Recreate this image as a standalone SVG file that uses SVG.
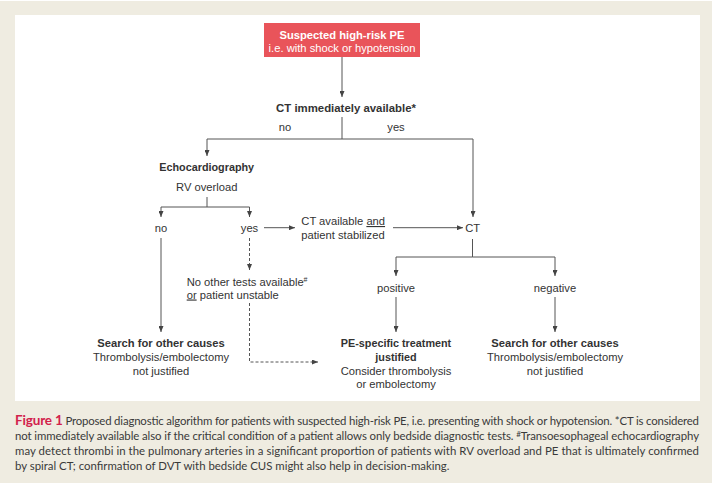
<svg xmlns="http://www.w3.org/2000/svg" width="712" height="485" viewBox="0 0 712 485">
<defs>
<marker id="ah" markerUnits="userSpaceOnUse" markerWidth="6" markerHeight="5" refX="6" refY="2.5" orient="auto">
<path d="M0,0 L6,2.5 L0,5 z" fill="#444"/>
</marker>
<style>
.t{font-family:"Liberation Sans",Arial,sans-serif;font-size:11.2px;fill:#333}
.b{font-weight:bold}
.m{text-anchor:middle}
.ln{fill:none;stroke:#555;stroke-width:1}
.d{stroke-dasharray:3,2}
.a{marker-end:url(#ah)}
.cap{font-family:Lato,"Open Sans",sans-serif;font-size:11.4px;fill:#3a3a3a}
</style>
</defs>
<rect x="0" y="0" width="712" height="485" fill="#ffffff"/>
<rect x="0" y="1" width="712" height="482" fill="#efece1"/>
<rect x="15" y="15" width="685" height="386" fill="#ffffff"/>

<g id="start">
<rect x="264" y="23" width="156" height="34" fill="#e9545a"/>
<text class="t b m" x="342" y="38.5" style="fill:#fff">Suspected high-risk PE</text>
<text class="t m" x="342" y="51.5" style="fill:#fff">i.e. with shock or hypotension</text>
</g>

<g id="connectors">
<path class="ln a" d="M342,57 V97"/>
<path class="ln" d="M342,117 V139"/>
<path class="ln a" d="M342,139 H207 V156"/>
<path class="ln a" d="M342,139 H473 V217"/>
<path class="ln" d="M207,197 V207"/>
<path class="ln a" d="M207,207 H161 V217"/>
<path class="ln a" d="M207,207 H249.5 V217"/>
<path class="ln a" d="M264,227.7 H295"/>
<path class="ln a" d="M393,227.7 H463"/>
<path class="ln" d="M472.5,239 V257"/>
<path class="ln a" d="M472.5,257 H396 V276"/>
<path class="ln a" d="M472.5,257 H555 V276"/>
<path class="ln a" d="M396,297 V332"/>
<path class="ln a" d="M555,297 V332"/>
<path class="ln a" d="M161,238 V332"/>
<path class="ln d a" d="M249.5,238 V270"/>
<path class="ln d a" d="M249.5,303 V362 H318"/>
</g>

<g id="ct-immediate">
<text class="t b m" x="346" y="112" style="font-size:11.4px">CT immediately available*</text>
</g>
<g id="label-no1"><text class="t m" x="285" y="131">no</text></g>
<g id="label-yes1"><text class="t m" x="396" y="131">yes</text></g>

<g id="echo">
<text class="t b m" x="206.7" y="171" style="font-size:10.8px">Echocardiography</text>
<text class="t m" x="206.7" y="190.5">RV overload</text>
</g>
<g id="label-no2"><text class="t m" x="161" y="232">no</text></g>
<g id="label-yes2"><text class="t m" x="249.5" y="232">yes</text></g>

<g id="ct-stabilized">
<text class="t" x="301.3" y="225">CT available <tspan text-decoration="underline">and</tspan></text>
<text class="t" x="301.3" y="239">patient stabilized</text>
</g>

<g id="ct"><text class="t m" x="472.7" y="232">CT</text></g>

<g id="no-other">
<text class="t" x="186.7" y="285.5">No other tests available<tspan font-size="7" dy="-4">#</tspan></text>
<text class="t" x="186.7" y="298.5"><tspan text-decoration="underline">or</tspan> patient unstable</text>
</g>

<g id="label-positive"><text class="t m" x="396" y="292">positive</text></g>
<g id="label-negative"><text class="t m" x="555" y="292">negative</text></g>

<g id="search-left">
<text class="t b m" x="161" y="347.3">Search for other causes</text>
<text class="t m" x="161" y="361">Thrombolysis/embolectomy</text>
<text class="t m" x="161" y="374.7">not justified</text>
</g>

<g id="pe-treatment">
<text class="t b m" x="396" y="347.3" style="font-size:10.8px">PE-specific treatment</text>
<text class="t b m" x="396" y="361" style="font-size:10.8px">justified</text>
<text class="t m" x="396" y="374.7">Consider thrombolysis</text>
<text class="t m" x="396" y="388">or embolectomy</text>
</g>

<g id="search-right">
<text class="t b m" x="555" y="347.3">Search for other causes</text>
<text class="t m" x="555" y="361">Thrombolysis/embolectomy</text>
<text class="t m" x="555" y="374.7">not justified</text>
</g>

<g id="caption">
<text class="cap" x="15" y="424.5" textLength="684" lengthAdjust="spacing"><tspan font-weight="bold" font-size="13.5" fill="#d2214b">Figure 1</tspan>  Proposed diagnostic algorithm for patients with suspected high-risk PE, i.e. presenting with shock or hypotension. *CT is considered</text>
<text class="cap" x="15" y="440" textLength="684" lengthAdjust="spacing">not immediately available also if the critical condition of a patient allows only bedside diagnostic tests. <tspan font-size="8" dy="-3">#</tspan><tspan dy="3">Transoesophageal echocardiography</tspan></text>
<text class="cap" x="15" y="455" textLength="684" lengthAdjust="spacing">may detect thrombi in the pulmonary arteries in a significant proportion of patients with RV overload and PE that is ultimately confirmed</text>
<text class="cap" x="15" y="470">by spiral CT; confirmation of DVT with bedside CUS might also help in decision-making.</text>
</g>
</svg>
